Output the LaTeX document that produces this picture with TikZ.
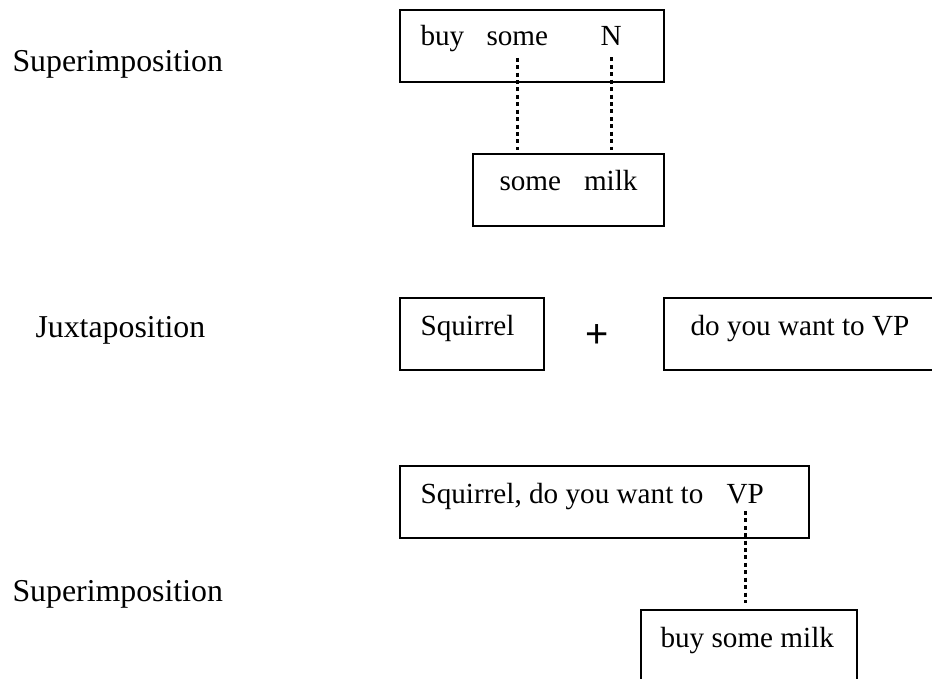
\documentclass[tikz,border=0pt]{standalone}
\usepackage{fontspec}
\setmainfont{Liberation Serif}
\setsansfont{Liberation Sans}
\begin{document}
\begin{tikzpicture}[scale=0.1325]
\tikzset{
  every node/.style={inner sep=0pt},
  box/.style={draw=black, line width=0.75pt, anchor=north west, minimum height=27.1pt},
  word/.style={anchor=base west, font=\fontsize{11}{13}\selectfont},
  rowlabel/.style={anchor=base west, font=\fontsize{12}{14}\selectfont},
  link/.style={line width=1.1pt, dash pattern=on 1.5pt off 1.3pt}
}
\clip (0,0) rectangle (93.2,-67.9);

% first superimposition
\node[rowlabel] (lab1) at (1.2,-7.2) {Superimposition};
\node[box, minimum width=99.5pt] (box1) at (39.9,-0.9) {};
\node[word] (buy1) at (42,-4.5) {buy};
\node[word] (some1) at (48.6,-4.5) {some};
\node[word] (n1) at (60,-4.5) {N};
\node[box, minimum width=72pt] (box2) at (47.2,-15.3) {};
\node[word] (some2) at (49.9,-19) {some};
\node[word] (milk2) at (58.35,-19) {milk};
\draw[link, shorten <=4.5pt, shorten >=1.1pt] (some1.south) -- (some1.south |- box2.north);
\draw[link, shorten <=4.5pt, shorten >=1.1pt] (n1.south) -- (n1.south |- box2.north);

% juxtaposition
\node[rowlabel] (lab2) at (3.5,-33.7) {Juxtaposition};
\node[box, minimum width=54.3pt] (sq) at (39.9,-29.7) {};
\node[word] (sqtext) at (42,-33.5) {Squirrel};
\node[font=\sffamily\fontsize{15}{17}\selectfont] (plus) at (59.7,-33.6) {+};
\node[box, minimum width=102.5pt] (vp) at (66.3,-29.7) {};
\node[word] (vptext) at (69,-33.5) {do you want to VP};

% second superimposition
\node[rowlabel] (lab3) at (1.2,-60.1) {Superimposition};
\node[box, minimum width=154.2pt] (box3) at (39.9,-46.5) {};
\node[word] (sq3) at (42,-50.3) {Squirrel, do you want to};
\node[word] (vp3) at (72.6,-50.3) {VP};
\node[box, minimum width=81.4pt] (box4) at (64,-60.9) {};
\node[word] (bsm4) at (66,-64.7) {buy some milk};
\draw[link, shorten <=2.6pt, shorten >=2.3pt] (vp3.south) -- (vp3.south |- box4.north);
\end{tikzpicture}
\end{document}
